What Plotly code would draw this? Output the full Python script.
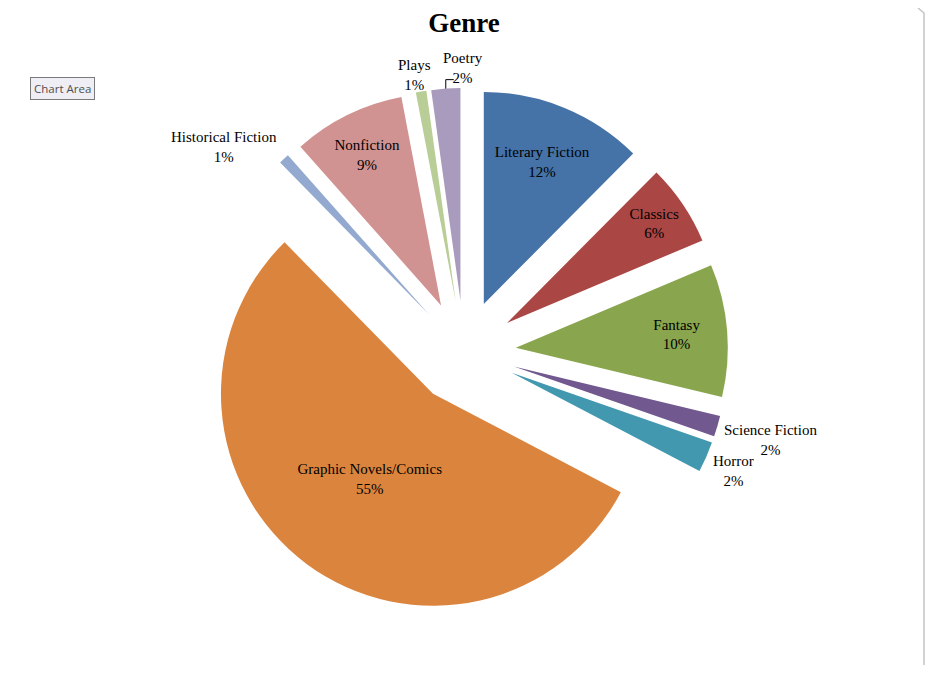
import math
import plotly.graph_objects as go

genres = ["Literary Fiction", "Classics", "Fantasy", "Science Fiction", "Horror",
          "Graphic Novels/Comics", "Historical Fiction", "Nonfiction", "Plays", "Poetry"]
shares = [12.45, 6.2, 10.1, 1.6, 2.35, 55.0, 0.8, 8.55, 0.8, 2.2]
colors = ["#4572A7", "#AA4643", "#89A54E", "#71588F", "#4198AF",
          "#DB843D", "#93A9CF", "#D19392", "#B9CD96", "#A99BBD"]
positions = ["inside", "inside", "inside", "none", "none",
             "inside", "none", "inside", "none", "none"]

# page body has an 8px margin, so the figure is drawn 8px right/down
W, H = 925, 657
cx, cy, R = 456, 344, 264   # pie centre and outer extent (radius incl. pull), figure px
PULL = 0.245
FONT = "Liberation Serif"
FS = 15

fig = go.Figure(go.Pie(
    labels=genres, values=shares, sort=False, direction="clockwise", rotation=0,
    marker=dict(colors=colors, line=dict(width=0)),
    pull=[PULL] * len(genres),
    textposition=positions,
    texttemplate="%{label}<br>%{percent:.0%}",
    insidetextorientation="horizontal",
    textfont=dict(family=FONT, size=FS, color="black"),
    insidetextfont=dict(family=FONT, size=FS, color="black"),
    showlegend=False, hoverinfo="label+percent",
    domain=dict(x=[(cx - R) / W, (cx + R) / W], y=[(H - cy - R) / H, (H - cy + R) / H]),
))

# labels for the thin slices, placed from the slice angles
total = sum(shares)
def mid_point(i, dist):
    before = sum(shares[:i])
    th = 2 * math.pi * (before + shares[i] / 2) / total
    return cx + dist * math.sin(th), cy - dist * math.cos(th), th

def pct(i):
    return "%d%%" % round(100 * shares[i] / total)

def px2paper(x, y):
    return x / W, 1 - y / H

annotations = []
shapes = []
lab_font = dict(family=FONT, size=FS, color="black")

for name in ["Historical Fiction", "Science Fiction", "Horror"]:
    i = genres.index(name)
    ox, oy, th = mid_point(i, R)
    right = math.sin(th) > 0
    lower = math.cos(th) < 0
    ax_ = ox + (5 if right else -5)
    ay_ = oy + (-6 if lower else 8)
    x, y = px2paper(ax_, ay_)
    annotations.append(dict(text=name + "<br>" + pct(i), x=x, y=y, xref="paper", yref="paper",
                            showarrow=False, xanchor="left" if right else "right",
                            yanchor="top" if lower else "bottom", font=lab_font))

ip = genres.index("Plays")
ox, oy, th = mid_point(ip, R * 1.07)
x, y = px2paper(ox - 4, oy + 2)
annotations.append(dict(text="Plays<br>" + pct(ip), x=x, y=y, xref="paper", yref="paper",
                        showarrow=False, xanchor="center", yanchor="middle", font=lab_font))

iq = genres.index("Poetry")
ox, oy, th = mid_point(iq, R)
ex, ey = ox, oy - 9
fx, fy = ex + 8, ey
p0, p1, p2 = px2paper(ox, oy), px2paper(ex, ey), px2paper(fx, fy)
shapes.append(dict(type="path", xref="paper", yref="paper",
                   path="M %f,%f L %f,%f L %f,%f" % (p0 + p1 + p2),
                   line=dict(color="black", width=1)))
x, y = px2paper(fx + 9, fy - 12)
annotations.append(dict(text="Poetry<br>" + pct(iq), x=x, y=y, xref="paper", yref="paper",
                        showarrow=False, xanchor="center", yanchor="middle", font=lab_font))

x, y = px2paper(54, 80)
annotations.append(dict(text="Chart Area", x=x, y=y, xref="paper", yref="paper",
                        showarrow=False, xanchor="center", yanchor="middle",
                        font=dict(family="Open Sans", size=11.5, color="#505050"),
                        bgcolor="#EEEEF4", bordercolor="#7A7A7A", borderwidth=1, borderpad=3))

# chart-area border on the right
shapes.append(dict(type="path", xref="paper", yref="paper",
                   path="M %f,1 L %f,%f Q %f,%f %f,%f" % (910 / W, 916 / W, 1 - 5 / H,
                                                          916 / W, 1 - 5 / H, 916 / W, 1 - 12 / H)
                        + " L %f,0" % (916 / W),
                   line=dict(color="#C4C4C4", width=1.5)))

fig.update_layout(
    width=W, height=H, margin=dict(l=0, r=0, t=0, b=0, pad=0, autoexpand=False),
    paper_bgcolor="white", plot_bgcolor="white",
    title=dict(text="<b>Genre</b>", x=456 / W, xanchor="center", y=1 - 5 / H, yanchor="top",
               font=dict(family=FONT, size=27, color="black")),
    annotations=annotations,
    shapes=shapes,
)

fig.write_html("out.html")
